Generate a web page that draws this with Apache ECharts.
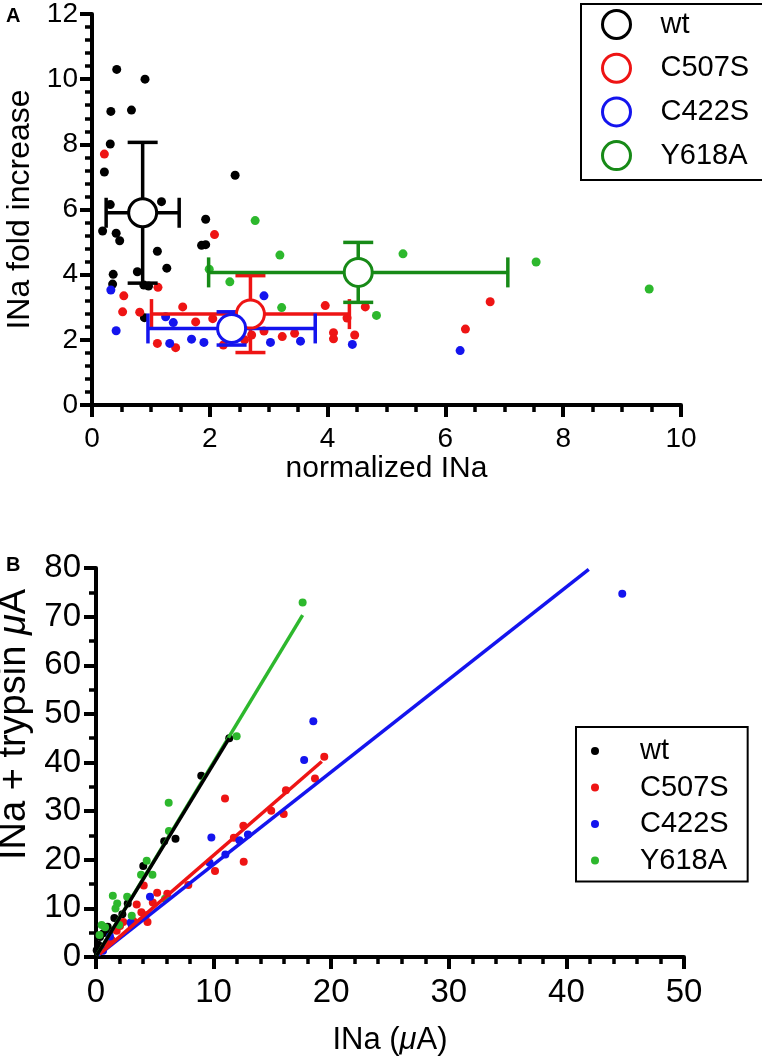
<!DOCTYPE html>
<html><head><meta charset="utf-8">
<script src="https://cdn.jsdelivr.net/npm/echarts@6/dist/echarts.min.js"></script>
<style>html,body{margin:0;padding:0;background:#fff}#c{width:762px;height:1061px}</style>
</head><body><div id="c"></div>
<script>
// ---------- data ----------
const groups = ['wt', 'C507S', 'C422S', 'Y618A'];
// Panel A: individual cells [normalized INa, INa fold increase]
const aWt = [[0.42,10.30],[0.90,10.00],[0.32,9.01],[0.67,9.05],[0.31,8.01],[0.21,7.15],[2.43,7.05],[0.31,6.15],[1.18,6.24],[0.18,5.34],[0.41,5.27],[0.47,5.04],[1.93,5.70],[1.86,4.90],[1.93,4.92],[1.11,4.72],[1.27,4.20],[0.77,4.09],[0.36,4.01],[0.35,3.71],[0.88,3.68],[0.96,3.65],[0.89,2.68]];
const aC507S = [[0.21,7.70],[2.08,5.23],[1.12,3.61],[0.54,3.35],[0.52,2.86],[0.81,2.85],[1.54,3.01],[1.76,2.55],[2.05,2.65],[2.25,2.56],[3.96,3.05],[4.64,3.01],[4.33,2.67],[4.10,2.22],[4.10,2.03],[4.46,2.15],[3.44,2.20],[3.23,2.10],[2.92,2.27],[2.71,2.15],[2.59,2.00],[2.47,2.27],[1.11,1.89],[1.42,1.76],[2.23,1.84],[6.76,3.17],[6.34,2.33]];
const aC422S = [[0.32,3.53],[0.41,2.28],[1.25,2.71],[1.38,2.53],[1.32,1.89],[1.69,2.02],[1.90,1.92],[2.92,3.35],[2.64,3.02],[3.03,1.92],[3.54,1.96],[4.42,1.86],[6.25,1.67],[2.56,2.66],[2.20,2.22]];
const aY618A = [[2.77,5.66],[3.19,4.60],[5.28,4.64],[7.54,4.39],[1.99,4.17],[2.34,3.78],[3.22,2.99],[4.83,2.75],[9.46,3.56]];
// Panel A: mean ± SD  [mean x, mean y, sd x, sd y]
const sumWt = [0.86, 5.90, 0.62, 2.16];
const sumC507S = [2.69, 2.79, 1.68, 1.18];
const sumC422S = [2.37, 2.35, 1.42, 0.51];
const sumY618A = [4.52, 4.07, 2.54, 0.92];
const ticksAx = [0, 2, 4, 6, 8, 10];
const ticksAy = [0, 2, 4, 6, 8, 10, 12];

// Panel B: [INa (uA), INa + trypsin (uA)]
const bWt = [[0.06,1.4],[0.2,2.5],[0.34,4.1],[0.62,4.9],[0.99,6.2],[1.19,5.4],[1.56,8.0],[2.24,8.8],[2.70,11.0],[4.02,18.7],[5.80,23.8],[6.76,24.3],[8.95,37.3],[11.33,45.0]];
const bC507S = [[0.7,2.0],[1.0,2.8],[1.33,3.5],[1.76,5.4],[2.04,6.4],[2.32,7.2],[3.17,7.4],[3.46,10.8],[3.86,9.2],[4.24,8.6],[4.38,7.2],[4.06,14.7],[4.83,11.2],[5.20,13.2],[6.06,13.0],[7.85,14.8],[10.12,17.7],[10.97,32.6],[11.72,24.5],[12.53,27.0],[12.56,19.6],[14.9,30.1],[15.96,29.4],[16.15,34.3],[18.62,36.7],[19.41,41.2]];
const bC422S = [[0.6,1.3],[1.19,4.2],[3.04,6.6],[2.95,7.1],[4.59,12.4],[9.66,19.4],[9.81,24.6],[11.0,21.1],[12.19,24.0],[12.92,25.2],[17.7,40.5],[18.48,48.5],[44.75,74.7]];
const bY618A = [[0.3,4.5],[0.48,6.6],[0.77,6.1],[1.98,6.6],[1.43,12.6],[2.65,12.4],[1.80,11.0],[1.66,10.0],[3.04,8.5],[3.83,16.9],[4.80,16.9],[4.31,19.8],[5.87,12.0],[6.20,25.9],[6.18,31.7],[11.96,45.4],[17.57,72.9]];
// Panel B: regression lines, end points
const fitWt = [[0.05,0.3],[11.33,45.0]];
const fitC507S = [[0.3,0.6],[19.2,40.2]];
const fitC422S = [[0.2,0.4],[41.9,79.7]];
const fitY618A = [[0.05,0.3],[17.57,70.3]];
const ticksBx = [0, 10, 20, 30, 40, 50];
const ticksBy = [0, 10, 20, 30, 40, 50, 60, 70, 80];

// ---------- styles ----------
const FONT = "'Liberation Sans', Arial, Helvetica, sans-serif";
const dotColor = {wt:'#000000', C507S:'#ee1414', C422S:'#1414ee', Y618A:'#2db82d'};
const barColor = {wt:'#000000', C507S:'#ee1414', C422S:'#1414ee', Y618A:'#178a17'};
const aPts = {wt:aWt, C507S:aC507S, C422S:aC422S, Y618A:aY618A};
const aSum = {wt:sumWt, C507S:sumC507S, C422S:sumC422S, Y618A:sumY618A};
const bPts = {wt:bWt, C507S:bC507S, C422S:bC422S, Y618A:bY618A};
const bFit = {wt:fitWt, C507S:fitC507S, C422S:fitC422S, Y618A:fitY618A};

function axisRange(t){ return {min:t[0], max:t[t.length-1], interval:t[1]-t[0]}; }

function errRender(params, api){
  const x = api.value(0), y = api.value(1), sx = api.value(2), sy = api.value(3);
  const l = api.coord([x - sx, y]), r = api.coord([x + sx, y]);
  const t = api.coord([x, y + sy]), b = api.coord([x, y - sy]);
  const h = 15;
  const style = {stroke: api.visual('color'), lineWidth: 3.5, fill: null, opacity: 1};
  const L = (x1,y1,x2,y2) => ({type:'line', shape:{x1,y1,x2,y2}, style});
  return {type:'group', children:[
    L(l[0], l[1], r[0], r[1]), L(t[0], t[1], b[0], b[1]),
    L(l[0], l[1]-h, l[0], l[1]+h), L(r[0], r[1]-h, r[0], r[1]+h),
    L(t[0]-h, t[1], t[0]+h, t[1]), L(b[0]-h, b[1], b[0]+h, b[1])
  ]};
}

const series = [];
groups.forEach(g => {
  series.push({name:g, type:'scatter', xAxisIndex:0, yAxisIndex:0, data:aPts[g],
    symbolSize:9, itemStyle:{color:dotColor[g], opacity:1}, z:2, silent:true});
});
groups.forEach(g => {
  series.push({name:g, type:'custom', xAxisIndex:0, yAxisIndex:0, data:[aSum[g]],
    encode:{x:0, y:1}, renderItem:errRender, itemStyle:{color:barColor[g], opacity:1}, z:3, silent:true});
  series.push({name:g, type:'scatter', xAxisIndex:0, yAxisIndex:0, data:[[aSum[g][0], aSum[g][1]]],
    symbolSize:28, itemStyle:{color:'#ffffff', borderColor:barColor[g], borderWidth:3, opacity:1}, z:4, silent:true});
});
groups.forEach(g => {
  series.push({name:g, type:'scatter', xAxisIndex:1, yAxisIndex:1, data:bPts[g],
    symbolSize:8, itemStyle:{color:dotColor[g], opacity:1}, z:2, silent:true});
});
['C422S','C507S','Y618A','wt'].forEach(g => {
  series.push({name:g, type:'line', xAxisIndex:1, yAxisIndex:1, data:bFit[g],
    showSymbol:false, symbol:'none', lineStyle:{color:dotColor[g], width:3.5}, z:3, silent:true});
});

const axisCommon = {
  axisLine:{show:true, onZero:false, lineStyle:{color:'#000', width:4}},
  axisTick:{show:true, length:12, lineStyle:{color:'#000', width:4}},
  minorTick:{show:true, length:7, lineStyle:{color:'#000', width:3.5}},
  splitLine:{show:false}
};

const option = {
  animation:false,
  backgroundColor:'#ffffff',
  textStyle:{fontFamily:FONT},
  grid:[
    {left:92, top:14, width:589, height:391, containLabel:false, outerBoundsMode:'none'},
    {left:96, top:568, width:588, height:389, containLabel:false, outerBoundsMode:'none'}
  ],
  xAxis:[
    Object.assign({type:'value', gridIndex:0}, axisRange(ticksAx), axisCommon, {
      minorTick:Object.assign({}, axisCommon.minorTick, {splitNumber:4}),
      axisLabel:{fontSize:28, color:'#000', margin:20, fontFamily:FONT},
      name:'normalized INa', nameLocation:'middle', nameGap:46,
      nameTextStyle:{fontSize:30, color:'#000', fontFamily:FONT}
    }),
    Object.assign({type:'value', gridIndex:1}, axisRange(ticksBx), axisCommon, {
      minorTick:Object.assign({}, axisCommon.minorTick, {splitNumber:5}),
      axisLabel:{fontSize:33, color:'#000', margin:19, fontFamily:FONT},
      name:'{a|INa (}{b|μ}{a|A)}', nameLocation:'middle', nameGap:68,
      nameTextStyle:{fontSize:31, color:'#000', fontFamily:FONT,
        rich:{a:{fontSize:31, fontFamily:FONT, color:'#000'}, b:{fontSize:31, fontFamily:FONT, fontStyle:'italic', color:'#000'}}}
    })
  ],
  yAxis:[
    Object.assign({type:'value', gridIndex:0}, axisRange(ticksAy), axisCommon, {
      minorTick:Object.assign({}, axisCommon.minorTick, {splitNumber:5}),
      axisLabel:{fontSize:28, color:'#000', margin:14, fontFamily:FONT},
      name:'INa fold increase', nameLocation:'middle', nameGap:56, nameRotate:90,
      nameTextStyle:{fontSize:32, color:'#000', fontFamily:FONT}
    }),
    Object.assign({type:'value', gridIndex:1}, axisRange(ticksBy), axisCommon, {
      minorTick:Object.assign({}, axisCommon.minorTick, {splitNumber:2}),
      axisLabel:{fontSize:33, color:'#000', margin:15, fontFamily:FONT},
      name:'{a|INa + trypsin }{b|μ}{a|A}', nameLocation:'middle', nameGap:58, nameRotate:90,
      nameTextStyle:{fontSize:38, color:'#000', fontFamily:FONT, padding:[0,0,0,76],
        rich:{a:{fontSize:38, fontFamily:FONT, color:'#000'}, b:{fontSize:38, fontFamily:FONT, fontStyle:'italic', color:'#000'}}}
    })
  ],
  legend:[
    {left:581, top:4, orient:'vertical', padding:[5,14,9,20], itemGap:12.7,
     itemWidth:28, itemHeight:28, borderColor:'#000', borderWidth:2, selectedMode:false,
     textStyle:{fontSize:29, lineHeight:30, color:'#000', fontFamily:FONT, padding:[0,0,0,25]},
     data:groups.map(g => ({name:g, icon:'circle', itemStyle:{color:'#ffffff', borderColor:barColor[g], borderWidth:3, opacity:1}}))},
    {left:576, top:727, orient:'vertical', padding:[9,19,6,15], itemGap:6.5,
     itemWidth:8, itemHeight:8, borderColor:'#000', borderWidth:2, selectedMode:false,
     textStyle:{fontSize:29, lineHeight:30, color:'#000', fontFamily:FONT, padding:[0,0,0,36]},
     data:groups.map(g => ({name:g, icon:'circle', itemStyle:{color:dotColor[g], borderWidth:0, opacity:1}}))}
  ],
  graphic:[
    {type:'text', left:6, top:6, style:{text:'A', fontSize:20, fontWeight:'bold', fontFamily:FONT, fill:'#000'}},
    {type:'text', left:6, top:555, style:{text:'B', fontSize:20, fontWeight:'bold', fontFamily:FONT, fill:'#000'}}
  ],
  series:series
};
const chart = echarts.init(document.getElementById('c'), null, {renderer:'canvas'});
chart.setOption(option);
</script></body></html>
